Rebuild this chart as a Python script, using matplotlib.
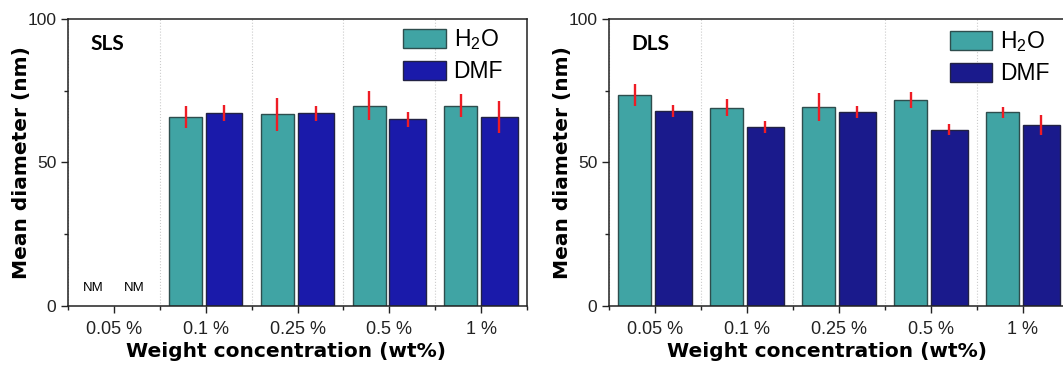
import numpy as np
import matplotlib.pyplot as plt

plt.rcParams['mathtext.default'] = 'regular'

# --- data ---
categories = ['0.05 %', '0.1 %', '0.25 %', '0.5 %', '1 %']

# SLS (0.05 % not measured -> NM)
sls_h2o = [np.nan, 65.7, 66.8, 69.7, 69.7]
sls_h2o_err = [np.nan, 3.8, 5.7, 5.1, 4.0]
sls_dmf = [np.nan, 67.3, 67.1, 65.0, 65.8]
sls_dmf_err = [np.nan, 2.8, 2.7, 2.7, 5.6]

# DLS
dls_h2o = [73.5, 69.0, 69.3, 71.7, 67.4]
dls_h2o_err = [3.8, 3.0, 4.8, 2.9, 1.9]
dls_dmf = [67.9, 62.4, 67.6, 61.4, 62.9]
dls_dmf_err = [2.1, 2.1, 2.1, 1.9, 3.5]

teal = '#40a4a4'
blue_sls = '#1a1aaa'
blue_dls = '#1a1a8c'
err_red = '#ee1c25'
tick_font = 'Liberation Sans'
label_font = 'DejaVu Sans'

fig = plt.figure(figsize=(10.63, 3.66), dpi=100)
ax1 = fig.add_axes([0.064, 0.1648, 0.4318, 0.7833])
ax2 = fig.add_axes([0.5729, 0.1648, 0.4327, 0.7833])

x = np.arange(len(categories))


def draw_panel(ax, h2o, h2o_err, dmf, dmf_err, dmf_color, tag, leg_xy):
    ax.bar(x - 0.40, h2o, width=0.36, align='edge', color=teal,
           edgecolor='#2e4d4d', linewidth=1.0, label='H$_2$O', zorder=2)
    ax.bar(x, dmf, width=0.40, align='edge', color=dmf_color,
           edgecolor='#222244', linewidth=1.0, label='DMF', zorder=2)
    ax.errorbar(x - 0.22, h2o, yerr=h2o_err, fmt='none', ecolor=err_red,
                elinewidth=1.7, capsize=0, zorder=3)
    ax.errorbar(x + 0.20, dmf, yerr=dmf_err, fmt='none', ecolor=err_red,
                elinewidth=1.7, capsize=0, zorder=3)

    ax.set_xlim(-0.5, 4.5)
    ax.set_ylim(0, 100)
    ax.set_xticks(x)
    ax.set_xticklabels(categories, family=tick_font, fontsize=13)
    ax.set_xticks(np.arange(-0.5, 5.0, 1.0), minor=True)
    ax.set_yticks([0, 50, 100])
    ax.set_yticklabels(['0', '50', '100'], family=tick_font, fontsize=12.5)
    ax.set_yticks([25, 75], minor=True)
    ax.tick_params(axis='both', which='major', direction='out', length=5,
                   width=1.0, colors='#222222')
    ax.tick_params(axis='both', which='minor', direction='out', length=3,
                   width=1.0, colors='#222222')
    ax.tick_params(axis='x', which='major', pad=6)
    ax.grid(True, axis='x', which='minor', ls=':', color='#cccccc', lw=0.8,
            zorder=0)
    for sp in ax.spines.values():
        sp.set_linewidth(1.1)
        sp.set_color('#222222')

    ax.set_xlabel('Weight concentration (wt%)', family=label_font,
                  fontweight='bold', fontsize=14.5)
    ax.xaxis.set_label_coords(0.474, -0.125)
    ax.set_ylabel('Mean diameter (nm)', family=label_font,
                  fontweight='bold', fontsize=14.5, va='center')
    ax.yaxis.set_label_coords(-0.102, 0.5)

    ax.text(0.048, 0.913, tag, transform=ax.transAxes, family='Lato',
            fontweight='bold', fontsize=15, ha='left', va='center')

    ax.legend(loc='upper left', bbox_to_anchor=leg_xy, frameon=False,
              prop={'family': tick_font, 'size': 16.5}, handlelength=1.85,
              handleheight=0.9, handletextpad=0.35, labelspacing=0.35,
              borderpad=0, borderaxespad=0)


draw_panel(ax1, sls_h2o, sls_h2o_err, sls_dmf, sls_dmf_err, blue_sls, 'SLS',
           (0.730, 0.972))
draw_panel(ax2, dls_h2o, dls_h2o_err, dls_dmf, dls_dmf_err, blue_dls, 'DLS',
           (0.741, 0.965))

# not measured markers for SLS at 0.05 %
for dx in (-0.225, 0.22):
    ax1.text(0 + dx, 6.3, 'NM', family=tick_font, fontsize=9.5,
             ha='center', va='center')

fig.savefig('out.png', dpi=100)
